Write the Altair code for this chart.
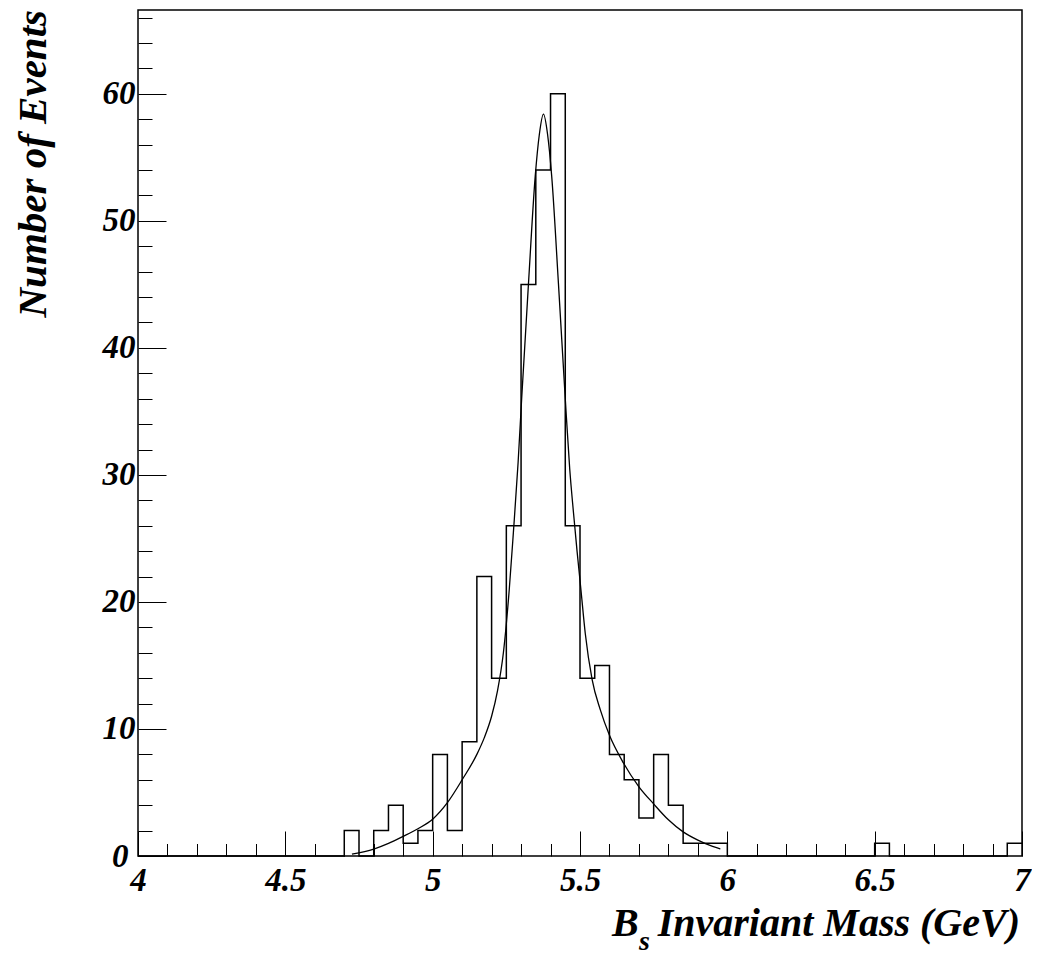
import altair as alt
import pandas as pd

# ---------------- data ----------------
# histogram: 60 bins of 0.05 GeV from 4.00 to 7.00 (lower edges)
bin_low = [round(4.0 + 0.05 * i, 2) for i in range(60)]
counts = [0, 0, 0, 0, 0, 0, 0, 0, 0, 0,
          0, 0, 0, 0, 2, 0, 2, 4, 1, 2,
          8, 2, 9, 22, 14, 26, 45, 54, 60, 26,
          14, 15, 8, 6, 3, 8, 4, 1, 1, 1,
          0, 0, 0, 0, 0, 0, 0, 0, 0, 0,
          1, 0, 0, 0, 0, 0, 0, 0, 0, 1]

# fitted curve, points
fit_x = [4.726, 4.80, 4.85, 4.90, 4.95, 5.00, 5.05, 5.10, 5.15, 5.175,
         5.20, 5.22, 5.24, 5.26, 5.274, 5.29, 5.302, 5.325, 5.348, 5.362,
         5.376, 5.39, 5.404, 5.427, 5.45, 5.465, 5.478, 5.49, 5.503, 5.518,
         5.541, 5.569, 5.60, 5.648, 5.70, 5.75, 5.80, 5.85, 5.90, 5.95, 5.976]
fit_y = [0.15, 0.55, 1.0, 1.55, 2.15, 2.9, 4.2, 6.0, 8.0, 9.3,
         11.0, 13.0, 16.0, 21.0, 25.5, 31.0, 36.0, 45.0, 53.5, 56.8,
         58.4, 56.8, 53.5, 45.0, 36.0, 30.5, 27.0, 24.0, 21.0, 17.5,
         13.9, 11.5, 9.5, 7.3, 5.45, 4.1, 2.85, 1.9, 1.25, 0.75, 0.55]

x_major = [4, 4.5, 5, 5.5, 6, 6.5, 7]
x_ticks = [round(4.0 + 0.1 * i, 1) for i in range(31)]
y_major = [0, 10, 20, 30, 40, 50, 60]
y_ticks = list(range(0, 67, 2))

x_title_main = "Invariant Mass (GeV)"
x_title_B = "B"
x_title_sub = "s"
y_title = "Number of Events"

# ---------------- chart ----------------
W, H = 884, 846
FONT = "Liberation Serif"

hist_df = pd.DataFrame({"mass": bin_low + [7.0], "count": counts + [counts[-1]]})
fit_df = pd.DataFrame({"mass": fit_x, "value": fit_y})

xs = alt.Scale(domain=[4, 7], nice=False, zero=False)
ys = alt.Scale(domain=[0, 66.6], nice=False, zero=True)

lab = dict(labelFont=FONT, labelFontSize=33, labelFontStyle="italic",
           labelFontWeight="bold", labelColor="black", labelOverlap=False,
           labelFlush=False)

hist = alt.Chart(hist_df).mark_line(
    interpolate="step-after", color="black", strokeWidth=1.5
).encode(
    x=alt.X("mass:Q", scale=xs,
            axis=alt.Axis(values=x_major, format="~g", ticks=False, domain=False,
                          grid=False, title=None, labelPadding=8, **lab)),
    y=alt.Y("count:Q", scale=ys,
            axis=alt.Axis(values=y_major, ticks=False, domain=False, grid=False,
                          title=None,
                          labelPadding={"condition": {"test": "datum.value === 0", "value": 10},
                                        "value": 3},
                          **lab)),
)

fit = alt.Chart(fit_df).mark_line(
    interpolate="monotone", color="black", strokeWidth=1.3
).encode(
    x=alt.X("mass:Q", scale=xs,
            axis=alt.Axis(orient="top", offset=-H, values=x_ticks, labels=False,
                          domain=False, grid=False, title=None, tickColor="black",
                          tickWidth=1,
                          tickSize={"condition": {"test": "abs(datum.value*2 - round(datum.value*2)) < 0.001",
                                                  "value": 25}, "value": 12.5})),
    y=alt.Y("value:Q", scale=ys,
            axis=alt.Axis(orient="right", offset=-W, values=y_ticks, labels=False,
                          domain=False, grid=False, title=None, tickColor="black",
                          tickWidth=1,
                          tickSize={"condition": {"test": "datum.value % 10 === 0",
                                                  "value": 28}, "value": 14})),
)

tstyle = dict(font=FONT, fontStyle="italic", fontWeight="bold", color="black")

ytitle = alt.Chart(pd.DataFrame({"t": [y_title]})).mark_text(
    fontSize=41, angle=270, align="right", baseline="middle", **tstyle
).encode(text="t:N", x=alt.value(-104), y=alt.value(0))

xtitle = alt.Chart(pd.DataFrame({"t": [x_title_main]})).mark_text(
    fontSize=40, align="right", baseline="alphabetic", **tstyle
).encode(text="t:N", x=alt.value(882), y=alt.value(926))

xtitle_b = alt.Chart(pd.DataFrame({"t": [x_title_B]})).mark_text(
    fontSize=40, align="left", baseline="alphabetic", **tstyle
).encode(text="t:N", x=alt.value(474), y=alt.value(926))

xtitle_s = alt.Chart(pd.DataFrame({"t": [x_title_sub]})).mark_text(
    fontSize=28, align="left", baseline="alphabetic", **tstyle
).encode(text="t:N", x=alt.value(501), y=alt.value(940))

chart = alt.layer(hist, fit, ytitle, xtitle, xtitle_b, xtitle_s).resolve_axis(
    x="independent", y="independent"
).properties(
    width=W, height=H,
    padding={"left": 130, "top": 2, "right": 10, "bottom": 100},
    autosize=alt.AutoSizeParams(type="none"),
).configure_view(stroke="black", strokeWidth=1.5)

chart.save("out.html", embed_options={"renderer": "svg", "actions": False})
